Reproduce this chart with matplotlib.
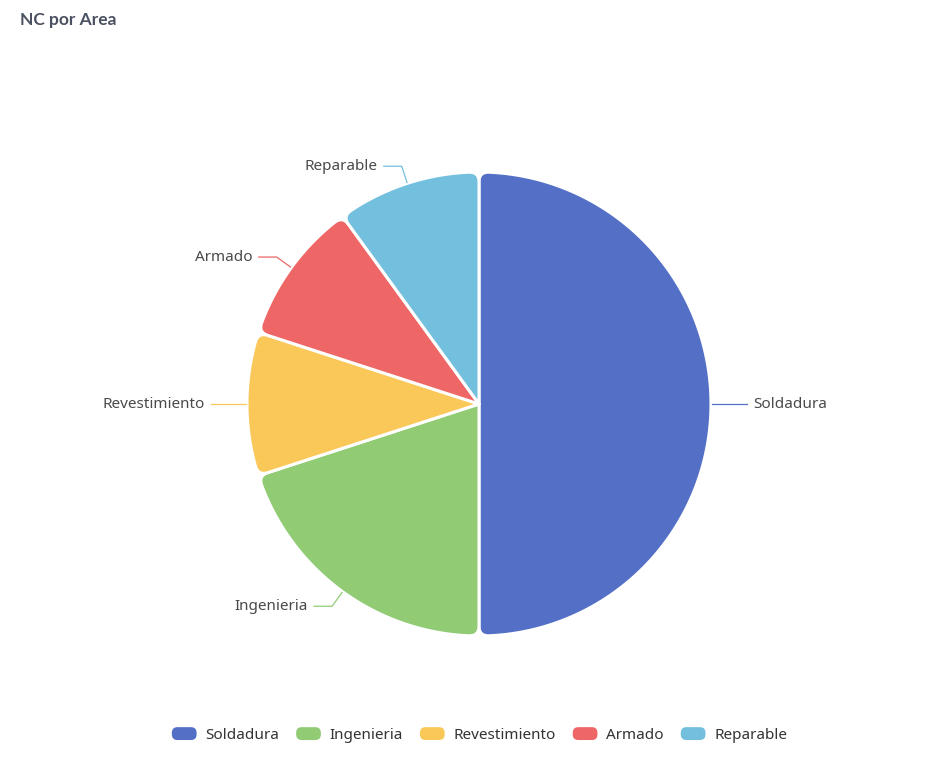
import numpy as np
import matplotlib
matplotlib.use('Agg')
from matplotlib import pyplot as plt
from matplotlib.patches import Polygon, FancyBboxPatch
from matplotlib.legend_handler import HandlerPatch
import matplotlib.patches as mpatches

# datos
areas = ['Soldadura', 'Ingenieria', 'Revestimiento', 'Armado', 'Reparable']
valores = [5, 2, 1, 1, 1]
colores = ['#5470c6', '#91cc75', '#fac858', '#ee6666', '#73c0de']
titulo = 'NC por Area'

plt.rcParams['font.family'] = ['Noto Sans', 'DejaVu Sans']

W, H = 942, 768
fig = plt.figure(figsize=(W / 100, H / 100), dpi=100)
ax = fig.add_axes([0, 0, 1, 1])
ax.set_xlim(0, W)
ax.set_ylim(H, 0)
ax.axis('off')

cx, cy, R = 479, 404, 232
rc = 10  # radio de las esquinas redondeadas


def pt(ang, r):
    a = np.radians(ang)
    return np.array([cx + r * np.cos(a), cy - r * np.sin(a)])


def bezier(p0, p1, p2, n=12):
    t = np.linspace(0, 1, n)[:, None]
    return (1 - t) ** 2 * p0 + 2 * (1 - t) * t * p1 + t ** 2 * p2


def sector(a1, a2):
    # a1 > a2, sentido horario
    da = np.degrees(rc / R)
    pts = [np.array([cx, cy])]
    pts += list(bezier(pt(a1, R - rc), pt(a1, R), pt(a1 - da, R)))
    arc = np.linspace(a1 - da, a2 + da, 120)
    pts += [pt(a, R) for a in arc]
    pts += list(bezier(pt(a2 + da, R), pt(a2, R), pt(a2, R - rc)))
    return np.array(pts)


total = sum(valores)
inicio = 90.0
for nombre, v, c in zip(areas, valores, colores):
    fin = inicio - 360.0 * v / total
    ax.add_patch(Polygon(sector(inicio, fin), closed=True, facecolor=c,
                         edgecolor='white', linewidth=2.2, joinstyle='round'))
    # linea de etiqueta
    mid = (inicio + fin) / 2
    p0 = pt(mid, R + 1)
    p1 = pt(mid, R + 18)
    s = 1 if np.cos(np.radians(mid)) >= 0 else -1
    p2 = p1 + np.array([s * 18, 0])
    ax.plot([p0[0], p1[0], p2[0]], [p0[1], p1[1], p2[1]], color=c, lw=0.9)
    ax.text(p2[0] + s * 6, p2[1], nombre, ha='left' if s > 0 else 'right',
            va='center', fontsize=11, color='#4a4a4a')
    inicio = fin

ax.text(20, 20, titulo, fontsize=12.5, fontweight='bold', color='#4a5160',
        family=['Lato', 'DejaVu Sans'], ha='left', va='center')


class HandlerRound(HandlerPatch):
    def create_artists(self, legend, orig_handle, xdescent, ydescent,
                       width, height, fontsize, trans):
        p = FancyBboxPatch((-xdescent + 1, -ydescent), width - 2, height,
                           boxstyle='round,pad=0,rounding_size=4',
                           facecolor=orig_handle.get_facecolor(),
                           edgecolor='none', transform=trans)
        return [p]


handles = [mpatches.Patch(facecolor=c, label=n) for n, c in zip(areas, colores)]
leg = fig.legend(handles=handles, loc='center', ncol=5, frameon=False,
                 bbox_to_anchor=(479 / W, 1 - 735 / H), fontsize=11,
                 handlelength=1.8, handleheight=0.92, handletextpad=0.5,
                 columnspacing=1.0,
                 handler_map={mpatches.Patch: HandlerRound()})
for t in leg.get_texts():
    t.set_color('#333333')

plt.savefig('out.png', dpi=100, facecolor='white')
